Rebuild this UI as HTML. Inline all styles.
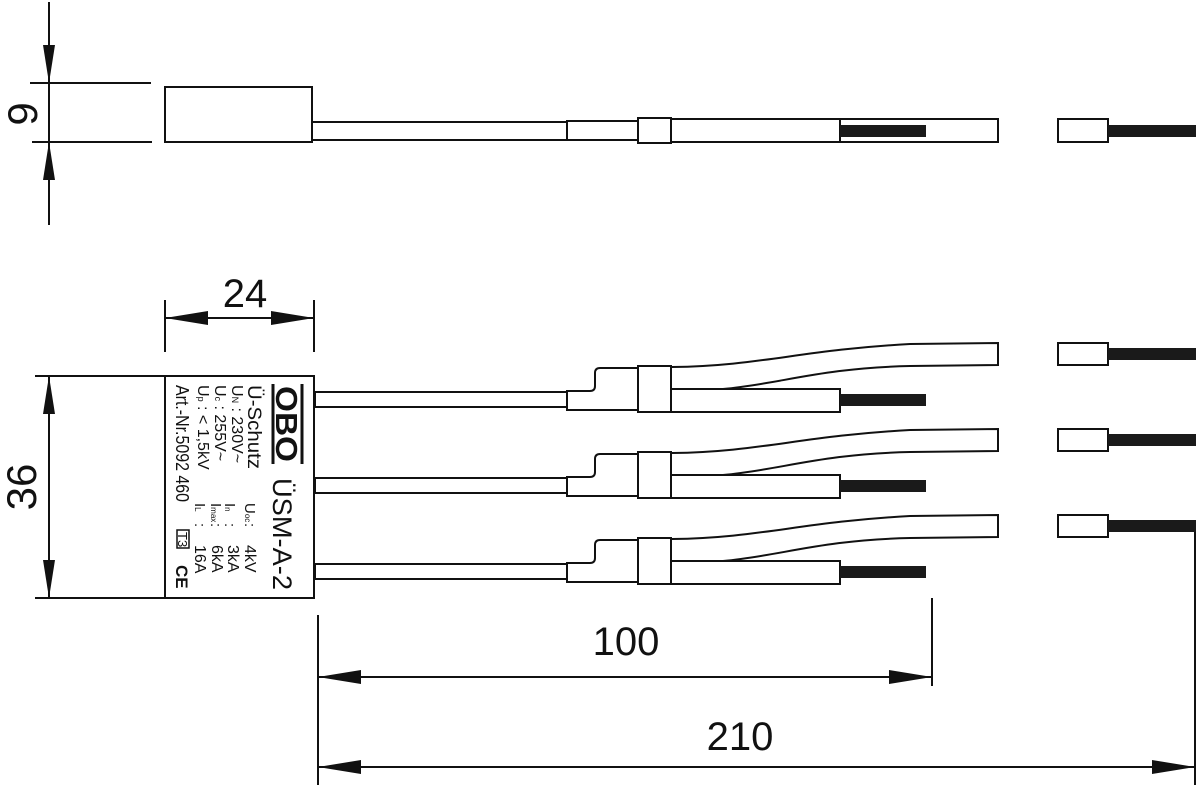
<!DOCTYPE html>
<html><head><meta charset="utf-8"><style>
html,body{margin:0;padding:0;background:#fff;}
svg{display:block;}
text{font-family:"Liberation Sans",sans-serif;fill:#111;}
</style></head><body>
<svg width="1201" height="789" viewBox="0 0 1201 789" xmlns="http://www.w3.org/2000/svg">
<defs>
<g id="grp" fill="#fff" stroke="#111" stroke-width="2">
  <path d="M672,367 C760,366 800,350 910,344 L998,343 L998,365 L910,366 C820,368 780,384 723,389" fill="none"/>
  <path d="M998,343 L998,365"/>
  <rect x="315" y="392" width="252" height="15"/>
  <path d="M567,391 L590,391 Q595,391 595,386 L595,373 Q595,368 600,368 L638,368 L638,410 L567,410 Z"/>
  <rect x="638" y="366" width="33" height="46"/>
  <rect x="671" y="389" width="169" height="23"/>
  <rect x="840" y="394" width="86" height="12" fill="#1a1a1a" stroke="none"/>
  <rect x="1058" y="343" width="50" height="22"/>
  <rect x="1108" y="348" width="88" height="12" fill="#1a1a1a" stroke="none"/>
</g>
</defs>
<g stroke="#111" stroke-width="2" fill="none">
  <rect x="165" y="87" width="147" height="55" fill="#fff"/>
  <rect x="312" y="122" width="255" height="18"/>
  <rect x="567" y="121" width="71" height="19"/>
  <rect x="638" y="118" width="33" height="25"/>
  <rect x="671" y="119" width="327" height="23"/>
  <line x1="840" y1="119" x2="840" y2="142"/>
  <rect x="1058" y="119" width="50" height="23"/>
  <line x1="49" y1="2" x2="49" y2="225"/>
  <line x1="30" y1="83" x2="151" y2="83"/>
  <line x1="32" y1="142" x2="152" y2="142"/>
  <line x1="165" y1="300" x2="165" y2="352"/>
  <line x1="314" y1="300" x2="314" y2="352"/>
  <line x1="165" y1="318" x2="314" y2="318"/>
  <line x1="49" y1="376" x2="49" y2="598"/>
  <line x1="35" y1="376" x2="164" y2="376"/>
  <line x1="35" y1="598" x2="164" y2="598"/>
  <rect x="165" y="376" width="149" height="222" fill="#fff"/>
  <line x1="318" y1="615" x2="318" y2="785"/>
  <line x1="932" y1="598" x2="932" y2="686"/>
  <line x1="1195" y1="530" x2="1195" y2="785"/>
  <line x1="318" y1="677" x2="932" y2="677"/>
  <line x1="318" y1="767" x2="1195" y2="767"/>
</g>
<rect x="840" y="125" width="86" height="12" fill="#1a1a1a"/>
<rect x="1108" y="125" width="88" height="12" fill="#1a1a1a"/>
<use href="#grp"/>
<use href="#grp" transform="translate(0,86)"/>
<use href="#grp" transform="translate(0,172)"/>
<g fill="#111">
  <polygon points="49,83 43,45 55,45"/>
  <polygon points="49,142 43,180 55,180"/>
  <polygon points="165,318 208,311 208,325"/>
  <polygon points="314,318 271,311 271,325"/>
  <polygon points="49,376 43,414 55,414"/>
  <polygon points="49,598 43,560 55,560"/>
  <polygon points="318,677 361,670 361,684"/>
  <polygon points="932,677 889,670 889,684"/>
  <polygon points="318,767 361,760 361,774"/>
  <polygon points="1195,767 1152,760 1152,774"/>
</g>
<text x="0" y="0" font-size="42" text-anchor="middle" transform="translate(37,114) rotate(-90)">9</text>
<text x="245" y="307" font-size="40" text-anchor="middle">24</text>
<text x="0" y="0" font-size="42" text-anchor="middle" transform="translate(36,487) rotate(-90)">36</text>
<text x="626" y="655" font-size="40" text-anchor="middle">100</text>
<text x="740" y="750" font-size="40" text-anchor="middle">210</text>
<!-- OBO logo -->
<g stroke="#111" stroke-width="3">
  <line x1="273" y1="384" x2="273" y2="464"/>
  <line x1="302" y1="384" x2="302" y2="464"/>
</g>
<g transform="translate(276,386) rotate(90)">
  <text x="0" y="0" font-size="31" font-weight="bold" textLength="76" lengthAdjust="spacingAndGlyphs">OBO</text>
</g>
<g transform="translate(273,478) rotate(90)">
  <text x="0" y="0" font-size="27" textLength="112" lengthAdjust="spacingAndGlyphs">ÜSM-A-2</text>
</g>
<g transform="translate(248,385) rotate(90)">
  <text x="0" y="0" font-size="19" textLength="84" lengthAdjust="spacingAndGlyphs">Ü-Schutz</text>
  <text x="0" y="16" font-size="16">U<tspan font-size="9">N</tspan> :  230V~</text>
  <text x="0" y="33" font-size="16">U<tspan font-size="9">c</tspan> :  255V~</text>
  <text x="0" y="50" font-size="16">U<tspan font-size="9">p</tspan> : &lt; 1,5kV</text>
  <text x="0" y="72" font-size="18" textLength="117" lengthAdjust="spacingAndGlyphs">Art.-Nr.5092 460</text>
  <text x="118" y="3" font-size="15">U<tspan font-size="8">oc</tspan></text>
  <text x="118" y="23" font-size="15">I<tspan font-size="8">n</tspan></text>
  <text x="118" y="37" font-size="15">I<tspan font-size="8">max</tspan></text>
  <text x="118" y="53" font-size="15">I<tspan font-size="8">L</tspan></text>
  <text x="138" y="3" font-size="15">:</text>
  <text x="138" y="23" font-size="15">:</text>
  <text x="138" y="37" font-size="15">:</text>
  <text x="138" y="53" font-size="15">:</text>
  <text x="160" y="3" font-size="16">4kV</text>
  <text x="160" y="20" font-size="16">3kA</text>
  <text x="160" y="36" font-size="16">6kA</text>
  <text x="160" y="53" font-size="16">16A</text>
  <text x="147" y="70" font-size="13">T3</text>
  <text x="180" y="72" font-size="17" font-weight="bold">CE</text>
</g>
<rect x="177" y="530" width="12" height="18" fill="none" stroke="#111" stroke-width="1.5"/>
</svg>
</body></html>
